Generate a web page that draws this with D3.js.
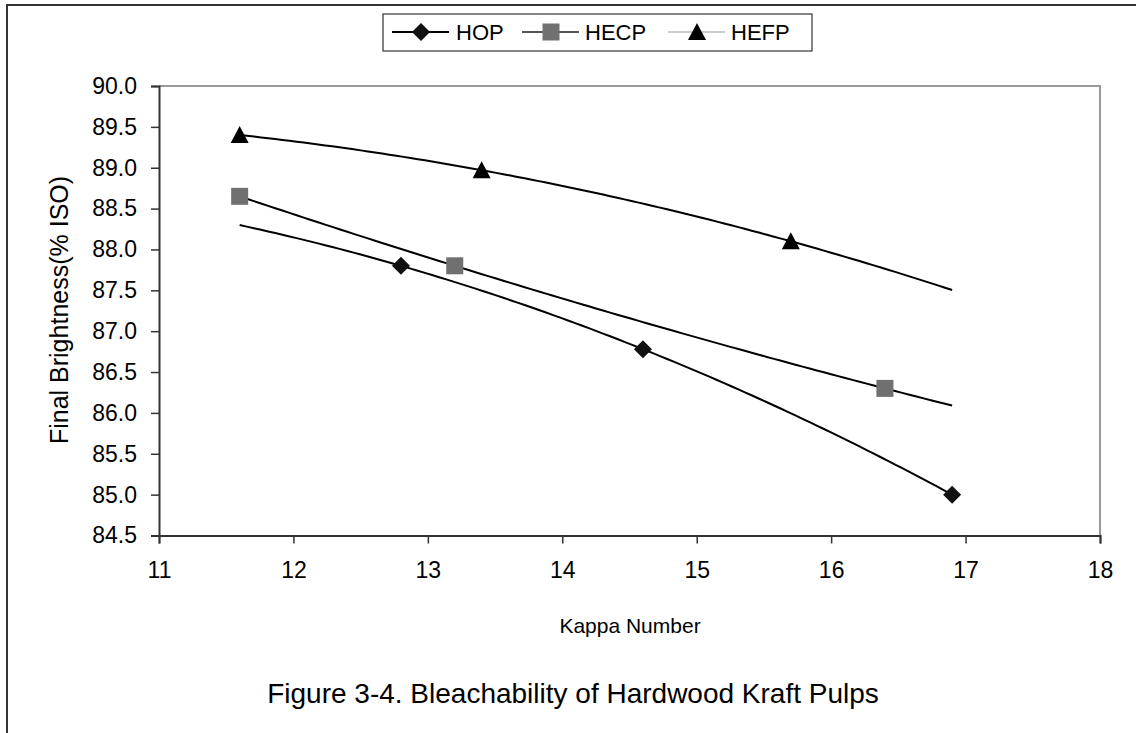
<!DOCTYPE html>
<html><head><meta charset="utf-8">
<script src="https://cdn.jsdelivr.net/npm/d3@7"></script>
<style>
html,body{margin:0;padding:0;background:#fff;}
svg{display:block;font-family:"Liberation Sans",Arial,sans-serif;}
</style></head>
<body><svg id="c" width="1136" height="733"></svg>
<script>
const seriesNames = ["HOP", "HECP", "HEFP"];
const hopX = [12.8, 14.6, 16.9];
const hopY = [87.8, 86.78, 85.0];
const hecpX = [11.6, 13.2, 16.4];
const hecpY = [88.65, 87.8, 86.3];
const hefpX = [11.6, 13.4, 15.7];
const hefpY = [89.4, 88.97, 88.1];
const trendRange = [11.6, 16.9];
const xTicks = [11, 12, 13, 14, 15, 16, 17, 18];
const yTicks = [84.5, 85.0, 85.5, 86.0, 86.5, 87.0, 87.5, 88.0, 88.5, 89.0, 89.5, 90.0];

const svg = d3.select("#c");
const x = d3.scaleLinear().domain([11, 18]).range([159, 1100]);
const y = d3.scaleLinear().domain([84.5, 90]).range([535.5, 86]);

svg.append("path").attr("d","M7,733 V5 H1136").attr("fill","none").attr("stroke","#333").attr("stroke-width",2);
svg.append("path").attr("d",`M${x(11)},${y(90)} H${x(18)} V${y(84.5)}`).attr("fill","none").attr("stroke","#999").attr("stroke-width",2);

const yAxis = d3.axisLeft(y).tickValues(yTicks).tickSize(8).tickFormat(d3.format(".1f"));
const gy = svg.append("g").attr("transform",`translate(${x(11)},0)`).call(yAxis);
const xAxis = d3.axisBottom(x).tickValues(xTicks).tickSize(8).tickFormat(d3.format("d"));
const gx = svg.append("g").attr("transform",`translate(0,${y(84.5)})`).call(xAxis);
[gx, gy].forEach(g => {
  g.select(".domain").attr("stroke","#333").attr("stroke-width",2);
  g.selectAll(".tick line").attr("stroke","#333").attr("stroke-width",1.5);
  g.selectAll(".tick text").attr("fill","#000").style("font-size","23px").style("font-family","Liberation Sans, Arial, sans-serif");
});
gy.selectAll(".tick text").attr("x",-22);
gx.selectAll(".tick text").attr("y",26);

svg.append("text").attr("x",630).attr("y",633).attr("text-anchor","middle").style("font-size","21px").text("Kappa Number");
svg.append("text").attr("transform","translate(68,310) rotate(-90)").attr("text-anchor","middle").style("font-size","25px").text("Final Brightness(% ISO)");
svg.append("text").attr("x",573).attr("y",703).attr("text-anchor","middle").style("font-size","28px").text("Figure 3-4. Bleachability of Hardwood Kraft Pulps");

function polyFit(xs, ys) {
  const n = xs.length;
  let s = [0,0,0,0,0], t = [0,0,0];
  for (let i=0;i<n;i++){ let p=1; for(let k=0;k<5;k++){ s[k]+=p; if(k<3) t[k]+=p*ys[i]; p*=xs[i]; } }
  const M = [[s[0],s[1],s[2],t[0]],[s[1],s[2],s[3],t[1]],[s[2],s[3],s[4],t[2]]];
  for (let i=0;i<3;i++){
    for (let j=i+1;j<3;j++){ const f=M[j][i]/M[i][i]; for(let k=i;k<4;k++) M[j][k]-=f*M[i][k]; }
  }
  const c=[0,0,0];
  for (let i=2;i>=0;i--){ let v=M[i][3]; for(let k=i+1;k<3;k++) v-=M[i][k]*c[k]; c[i]=v/M[i][i]; }
  return xv => c[0]+c[1]*xv+c[2]*xv*xv;
}
const series = [
  {name:seriesNames[0], xs:hopX, ys:hopY, shape:"diamond"},
  {name:seriesNames[1], xs:hecpX, ys:hecpY, shape:"square"},
  {name:seriesNames[2], xs:hefpX, ys:hefpY, shape:"triangle"}
];
const line = d3.line().x(d=>x(d[0])).y(d=>y(d[1]));
series.forEach(s => {
  const f = polyFit(s.xs, s.ys);
  const pts = d3.range(0, 101).map(i => { const xv = trendRange[0] + (trendRange[1]-trendRange[0])*i/100; return [xv, f(xv)]; });
  svg.append("path").attr("d", line(pts)).attr("fill","none").attr("stroke","#000").attr("stroke-width",2);
});

function marker(g, shape, cx, cy) {
  if (shape==="diamond") {
    g.append("path").attr("d",`M${cx},${cy-9} L${cx+9},${cy} L${cx},${cy+9} L${cx-9},${cy} Z`).attr("fill","#111");
  } else if (shape==="square") {
    g.append("rect").attr("x",cx-8.5).attr("y",cy-8.5).attr("width",17).attr("height",17).attr("fill","#707070");
  } else {
    g.append("path").attr("d",`M${cx},${cy-9} L${cx+9},${cy+8} L${cx-9},${cy+8} Z`).attr("fill","#000");
  }
}
const mg = svg.append("g");
series.forEach(s => s.xs.forEach((xv,i) => marker(mg, s.shape, x(xv), y(s.ys[i]))));

const lg = svg.append("g");
lg.append("rect").attr("x",383).attr("y",14).attr("width",429).attr("height",37).attr("fill","#fff").attr("stroke","#333").attr("stroke-width",1.2);
const legItems = [
  {name:seriesNames[0], shape:"diamond", lx:392, col:"#000", tx:456},
  {name:seriesNames[1], shape:"square", lx:522, col:"#555", tx:585},
  {name:seriesNames[2], shape:"triangle", lx:668, col:"#ccc", tx:731}
];
legItems.forEach(it => {
  lg.append("line").attr("x1",it.lx).attr("x2",it.lx+57).attr("y1",32).attr("y2",32).attr("stroke",it.col).attr("stroke-width",2);
  marker(lg, it.shape, it.lx+29, 32);
  lg.append("text").attr("x",it.tx).attr("y",32).attr("dy","0.36em").style("font-size","22px").text(it.name);
});
</script></body></html>
